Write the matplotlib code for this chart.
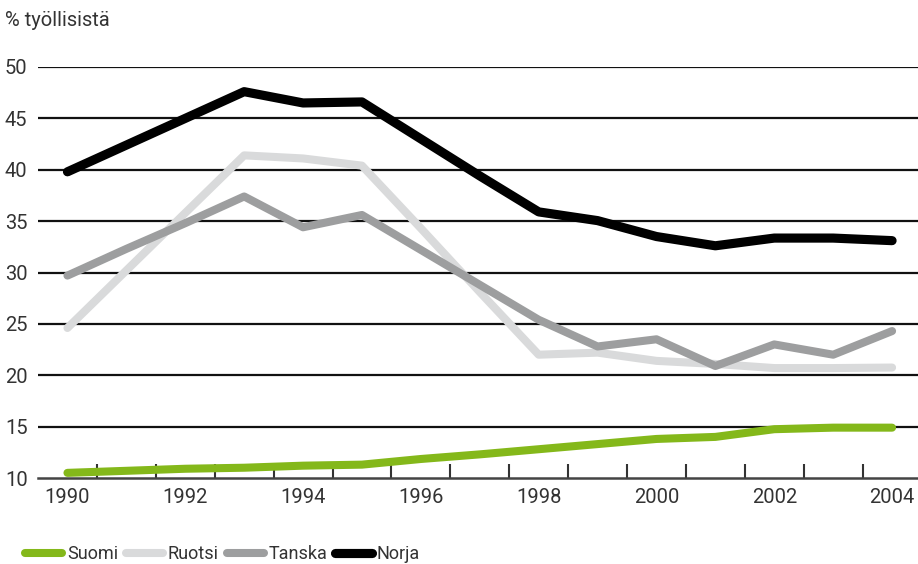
import matplotlib
matplotlib.use("Agg")
import matplotlib.pyplot as plt

plt.rcParams['font.family'] = ['Roboto', 'DejaVu Sans']

years = list(range(1990, 2005))
suomi = [10.5, 10.7, 10.9, 11.0, 11.2, 11.3, 11.85, 12.3, 12.8, 13.3, 13.8, 14.0, 14.75, 14.9, 14.9]
ruotsi = [24.6, 30.2, 35.8, 41.4, 41.1, 40.4, 34.3, 28.1, 22.0, 22.2, 21.4, 21.1, 20.7, 20.7, 20.75]
tanska = [29.7, 32.3, 34.8, 37.4, 34.4, 35.6, 32.2, 28.8, 25.4, 22.8, 23.5, 20.9, 23.0, 22.0, 24.3]
norja = [39.8, 42.4, 45.0, 47.6, 46.5, 46.6, 43.0, 39.4, 35.9, 35.05, 33.5, 32.6, 33.35, 33.35, 33.1]

series = [("Suomi", suomi, "#84b81a", 5.8),
          ("Ruotsi", ruotsi, "#d9dadb", 5.8),
          ("Tanska", tanska, "#9d9e9f", 5.8),
          ("Norja", norja, "#000000", 6.6)]

fig = plt.figure(figsize=(9.18, 5.64), dpi=100)
ax = fig.add_axes([38 / 918, 1 - 478 / 564, 1 - 38 / 918, (478 - 67) / 564])

for y in range(15, 55, 5):
    ax.axhline(y, color="#111111", lw=1.6, zorder=1)

for name, vals, col, lw in series:
    ax.plot(years, vals, color=col, lw=lw, label=name, zorder=3,
            solid_capstyle="round", solid_joinstyle="round")

ax.set_xlim(1989.5, 2004.44)
ax.set_ylim(10, 50)
ax.set_yticks(range(10, 55, 5))
ax.set_xticks(range(1990, 2005, 2))
ax.set_xticks([y + 0.5 for y in range(1990, 2004)], minor=True)
ax.tick_params(axis="y", length=0, pad=23.8, labelsize=14.5, labelcolor="#333333")
ax.tick_params(axis="x", which="major", length=0, pad=7, labelsize=14.5, labelcolor="#333333")
ax.tick_params(axis="x", which="minor", length=10, width=1.5, direction="in", color="#333333")
for lab in ax.get_yticklabels():
    lab.set_horizontalalignment("left")

for s in ["top", "right", "left"]:
    ax.spines[s].set_visible(False)
ax.spines["bottom"].set_color("#444444")
ax.spines["bottom"].set_linewidth(1.8)

fig.text(5 / 918, 1 - 21 / 564, "% työllisistä", fontsize=14.5, color="#333333", va="center", ha="left")

fig.legend(loc="center left", bbox_to_anchor=(9 / 918, 1 - 554 / 564), ncol=4, frameon=False,
           fontsize=13, handlelength=2.05, handletextpad=0.25, columnspacing=0.45,
           labelcolor="#333333")

fig.savefig("out.png", dpi=100)
